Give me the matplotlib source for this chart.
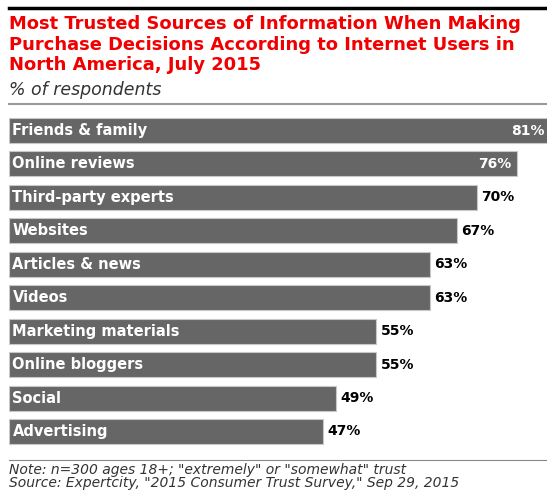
import matplotlib
matplotlib.use("Agg")
import matplotlib.pyplot as plt
from matplotlib.lines import Line2D

plt.rcParams["font.family"] = ["DejaVu Sans"]

# Data
sources = [
    "Friends & family", "Online reviews", "Third-party experts", "Websites",
    "Articles & news", "Videos", "Marketing materials", "Online bloggers",
    "Social", "Advertising",
]
shares = [81, 76, 70, 67, 63, 63, 55, 55, 49, 47]

title = ("Most Trusted Sources of Information When Making\n"
         "Purchase Decisions According to Internet Users in\n"
         "North America, July 2015")
subtitle = "% of respondents"
footnote = ('Note: n=300 ages 18+; "extremely" or "somewhat" trust\n'
            'Source: Expertcity, "2015 Consumer Trust Survey," Sep 29, 2015')

W, H = 547, 495
fig = plt.figure(figsize=(W / 100, H / 100), dpi=100)

# bar area in pixel terms: left edge 9px, 6.68 px per percentage point
left_px, px_per_pt = 9, 6.68
top_px, bot_px = 113.8, 448.2
ax = fig.add_axes([left_px / W, 1 - bot_px / H, (W - left_px) / W, (bot_px - top_px) / H])
ax.set_xlim(0, (W - left_px) / px_per_pt)
ax.set_ylim(len(sources) - 0.5, -0.5)
ax.axis("off")

y = list(range(len(sources)))
ax.barh(y, shares, height=0.75, color="#666666", edgecolor="#c8c8c8", linewidth=0.8)

for i, (name, val) in enumerate(zip(sources, shares)):
    ax.annotate(name, (0, i), xytext=(2.5, 0), textcoords="offset points",
                ha="left", va="center", color="white", fontsize=10.5, fontweight="bold")
    if val >= 75:
        ax.annotate(f"{val}%", (val, i), xytext=(-4, 0), textcoords="offset points",
                    ha="right", va="center", color="white", fontsize=10,
                    fontweight="bold", annotation_clip=False)
    else:
        ax.annotate(f"{val}%", (val, i), xytext=(3, 0), textcoords="offset points",
                    ha="left", va="center", color="black", fontsize=10,
                    fontweight="bold", annotation_clip=False)

# header / footer rules
fig.add_artist(Line2D([left_px / W, 1], [1 - 7.5 / H] * 2, color="black", lw=2.5))
fig.add_artist(Line2D([left_px / W, 1], [1 - 104 / H] * 2, color="#999999", lw=1.5))
fig.add_artist(Line2D([left_px / W, 1], [1 - 460 / H] * 2, color="#888888", lw=0.8))

fig.text(left_px / W, 1 - 15 / H, title, ha="left", va="top", color="#f00000",
         fontsize=12.9, fontweight="bold", linespacing=1.18)
fig.text(left_px / W, 1 - 81 / H, subtitle, ha="left", va="top", color="#333333",
         fontsize=12.5, style="italic")
fig.text(left_px / W, 1 - 463 / H, footnote, ha="left", va="top", color="#333333",
         fontsize=10, style="italic", linespacing=0.9)

fig.savefig("out.png", dpi=100)
